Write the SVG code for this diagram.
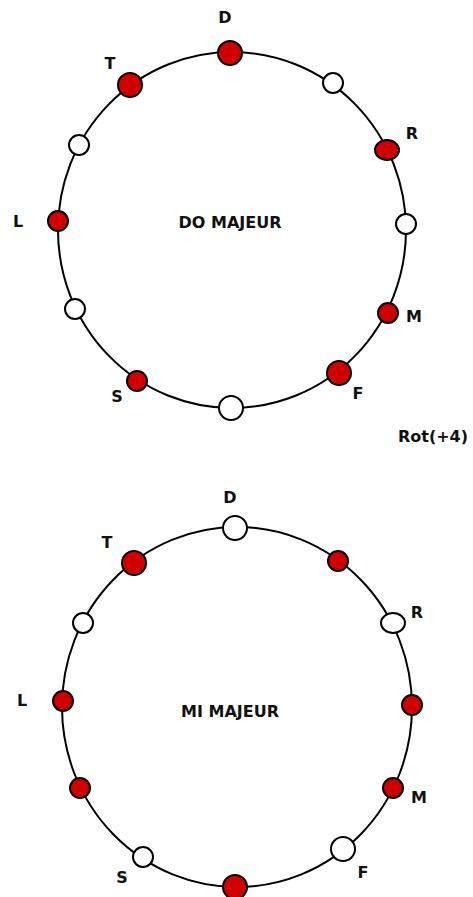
<svg xmlns="http://www.w3.org/2000/svg" width="473" height="897" viewBox="0 0 473 897">
<style>
.ring{fill:none;stroke:#000;stroke-width:2}
.on{fill:#d00000;stroke:#000;stroke-width:2}
.off{fill:#fff;stroke:#000;stroke-width:2}
.lbl{font-family:"DejaVu Sans","Liberation Sans",sans-serif;font-size:16px;font-weight:bold;fill:#111;text-anchor:middle}
.title{font-family:"DejaVu Sans","Liberation Sans",sans-serif;font-size:16px;font-weight:bold;fill:#111;text-anchor:middle}
</style>
<rect width="473" height="897" fill="#fff"/>
<g id="connectors">
<ellipse class="ring" cx="232" cy="230" rx="174" ry="178"/>
<ellipse class="ring" cx="237" cy="707" rx="175" ry="180"/>
</g>
<g id="do-majeur">
<text class="title" x="230" y="228">DO MAJEUR</text>
<g id="do-D"><circle class="on" cx="230" cy="53" r="12"/><text class="lbl" x="225" y="23">D</text></g>
<g id="do-1"><circle class="off" cx="333" cy="83" r="10"/></g>
<g id="do-R"><ellipse class="on" cx="387" cy="150" rx="12" ry="10"/><text class="lbl" x="412" y="139">R</text></g>
<g id="do-3"><circle class="off" cx="406" cy="224" r="10"/></g>
<g id="do-M"><circle class="on" cx="388" cy="313" r="10"/><text class="lbl" x="414" y="322">M</text></g>
<g id="do-F"><circle class="on" cx="339" cy="373" r="12"/><text class="lbl" x="358" y="399">F</text></g>
<g id="do-6"><circle class="off" cx="231" cy="408" r="12"/></g>
<g id="do-S"><circle class="on" cx="137" cy="381" r="10"/><text class="lbl" x="117" y="402">S</text></g>
<g id="do-8"><circle class="off" cx="75" cy="309" r="10"/></g>
<g id="do-L"><circle class="on" cx="58" cy="221" r="10"/><text class="lbl" x="18" y="227">L</text></g>
<g id="do-10"><circle class="off" cx="79" cy="145" r="10"/></g>
<g id="do-T"><circle class="on" cx="130" cy="85" r="12"/><text class="lbl" x="110" y="69">T</text></g>
</g>
<g id="rot"><text class="title" x="433" y="442">Rot(+4)</text></g>
<g id="mi-majeur">
<text class="title" x="230" y="717">MI MAJEUR</text>
<g id="mi-D"><circle class="off" cx="235" cy="528" r="12"/><text class="lbl" x="230" y="503">D</text></g>
<g id="mi-1"><circle class="on" cx="338" cy="561" r="10"/></g>
<g id="mi-R"><ellipse class="off" cx="393" cy="623" rx="12" ry="10"/><text class="lbl" x="417" y="618">R</text></g>
<g id="mi-3"><circle class="on" cx="412" cy="705" r="10"/></g>
<g id="mi-M"><circle class="on" cx="393" cy="788" r="10"/><text class="lbl" x="419" y="803">M</text></g>
<g id="mi-F"><circle class="off" cx="343" cy="849" r="12"/><text class="lbl" x="363" y="878">F</text></g>
<g id="mi-6"><circle class="on" cx="235" cy="887" r="12"/></g>
<g id="mi-S"><circle class="off" cx="143" cy="857" r="10"/><text class="lbl" x="122" y="883">S</text></g>
<g id="mi-8"><circle class="on" cx="80" cy="788" r="10"/></g>
<g id="mi-L"><circle class="on" cx="63" cy="701" r="10"/><text class="lbl" x="22" y="706">L</text></g>
<g id="mi-10"><circle class="off" cx="83" cy="623" r="10"/></g>
<g id="mi-T"><circle class="on" cx="134" cy="563" r="12"/><text class="lbl" x="107" y="548">T</text></g>
</g>
</svg>
